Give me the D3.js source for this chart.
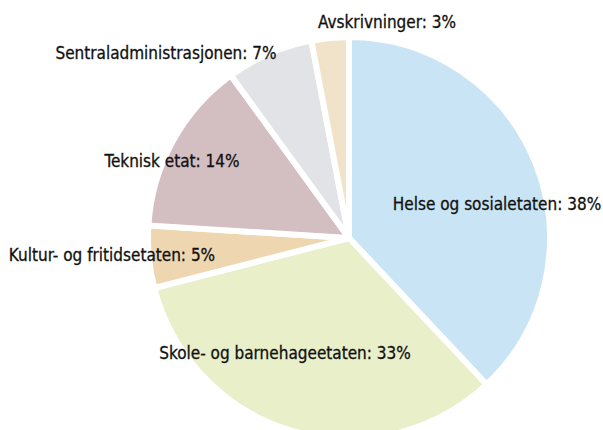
<!DOCTYPE html>
<html><head><meta charset="utf-8">
<script src="https://cdn.jsdelivr.net/npm/d3@7"></script>
<style>html,body{margin:0;padding:0;background:#fff;overflow:hidden}</style>
</head><body>
<svg id="chart" width="603" height="430"></svg>
<script>
const categories = ["Helse og sosialetaten", "Skole- og barnehageetaten", "Kultur- og fritidsetaten", "Teknisk etat", "Sentraladministrasjonen", "Avskrivninger"];
const values = [38, 33, 5, 14, 7, 3];
const colors = ["#c9e5f5", "#e8efc9", "#eed7b0", "#d3bec2", "#e2e3e7", "#f1e3c9"];

const W = 603, H = 430;
const cx = 349, cy = 238, r = 201;
// label anchor points (centre x, baseline y), relative to pie centre
const labelPos = [[148, -28], [-64, 121], [-237, 23], [-177, -71], [-183, -179], [38, -210]];

const svg = d3.select("#chart");
const g = svg.append("g").attr("transform", `translate(${cx},${cy})`);
const pie = d3.pie().sort(null).value(d => d);
const arc = d3.arc().innerRadius(0).outerRadius(r);
const arcs = pie(values);
g.selectAll("path").data(arcs).enter().append("path")
  .attr("d", arc).attr("fill", (d, i) => colors[i])
  .attr("stroke", "#fff").attr("stroke-width", 6).attr("stroke-linejoin", "miter");

g.selectAll("text").data(arcs).enter().append("text")
  .attr("x", (d, i) => labelPos[i][0])
  .attr("y", (d, i) => labelPos[i][1])
  .attr("text-anchor", "middle")
  .style("font-family", "'DejaVu Sans Condensed', 'Liberation Sans Narrow', sans-serif")
  .style("font-size", "17px")
  .attr("fill", "#111")
  .attr("stroke", "#111").attr("stroke-width", 0.3)
  .text((d, i) => `${categories[i]}: ${values[i]}%`);
</script>
</body></html>
